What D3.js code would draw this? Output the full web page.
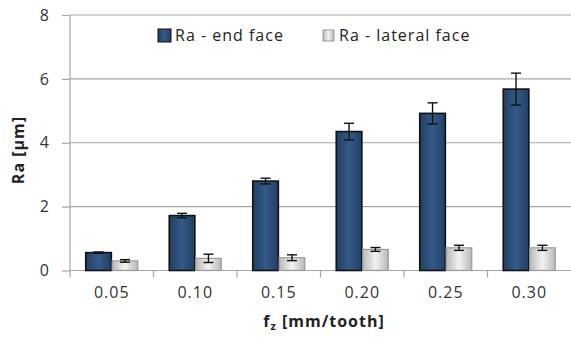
<!DOCTYPE html>
<html>
<head>
<meta charset="utf-8">
<script src="https://cdn.jsdelivr.net/npm/d3@7"></script>
<style>
  html, body { margin: 0; padding: 0; background: #fff; }
  svg { display: block; font-family: "Open Sans", "Noto Sans", sans-serif; }
</style>
</head>
<body>
<svg id="chart" width="571" height="340"></svg>
<script>
// Feed per tooth categories
const categories = ["0.05", "0.10", "0.15", "0.20", "0.25", "0.30"];
// Mean roughness Ra [µm] and error bar half-widths
const endFace = [0.56, 1.72, 2.80, 4.35, 4.92, 5.68];
const endFaceErr = [0.02, 0.07, 0.09, 0.26, 0.33, 0.50];
const lateralFace = [0.30, 0.38, 0.40, 0.66, 0.71, 0.71];
const lateralFaceErr = [0.04, 0.13, 0.09, 0.06, 0.08, 0.08];
const seriesNames = ["Ra - end face", "Ra - lateral face"];
const yTicks = [0, 2, 4, 6, 8];

const svg = d3.select("#chart");
const W = 571;
const xLeft = 70, y0 = 270.5, yTop = 15;
const labelFont = 16, labelSpacing = 1;

const x = d3.scaleBand().domain(categories).range([xLeft, W]).padding(0);
const xInner = d3.scaleBand().domain([0, 1]).range([x.bandwidth() / 2 - 26, x.bandwidth() / 2 + 26]).paddingInner(0.03);
const y = d3.scaleLinear().domain([0, 8]).range([y0, yTop]);

const defs = svg.append("defs");
const gBlue = defs.append("linearGradient").attr("id", "gBlue").attr("x1", 0).attr("x2", 1).attr("y1", 0).attr("y2", 0);
gBlue.append("stop").attr("offset", "0%").attr("stop-color", "#223f63");
gBlue.append("stop").attr("offset", "50%").attr("stop-color", "#345a88");
gBlue.append("stop").attr("offset", "100%").attr("stop-color", "#223f63");
const gGray = defs.append("linearGradient").attr("id", "gGray").attr("x1", 0).attr("x2", 1).attr("y1", 0).attr("y2", 0);
gGray.append("stop").attr("offset", "0%").attr("stop-color", "#b8b8b8");
gGray.append("stop").attr("offset", "50%").attr("stop-color", "#f2f2f2");
gGray.append("stop").attr("offset", "100%").attr("stop-color", "#b8b8b8");

// gridlines
svg.append("g").selectAll("line").data(yTicks.filter(d => d > 0)).join("line")
  .attr("x1", xLeft).attr("x2", W)
  .attr("y1", d => y(d)).attr("y2", d => y(d))
  .attr("stroke", "#a6a6a6").attr("stroke-width", 1.2);

// y axis
const yAxis = d3.axisLeft(y).tickValues(yTicks).tickSize(8).tickPadding(12).tickFormat(d3.format("d"));
const gy = svg.append("g").attr("transform", `translate(${xLeft},0)`).call(yAxis);
gy.select(".domain").attr("stroke", "#a6a6a6").attr("stroke-width", 1.2).attr("d", `M0,${y0}V${yTop}`);
gy.selectAll(".tick line").attr("stroke", "#a6a6a6").attr("stroke-width", 1.2);
gy.selectAll(".tick text").attr("font-size", labelFont).attr("fill", "#333")
  .attr("font-family", "Open Sans, sans-serif").attr("letter-spacing", labelSpacing);

// x axis baseline and ticks between categories
svg.append("line").attr("x1", xLeft).attr("x2", W).attr("y1", y0).attr("y2", y0)
  .attr("stroke", "#a6a6a6").attr("stroke-width", 1.2);
svg.append("g").selectAll("line").data(categories).join("line")
  .attr("x1", d => x(d)).attr("x2", d => x(d)).attr("y1", y0).attr("y2", y0 + 7)
  .attr("stroke", "#a6a6a6").attr("stroke-width", 1.2);
svg.append("g").selectAll("text").data(categories).join("text")
  .attr("x", d => x(d) + x.bandwidth() / 2).attr("y", 298)
  .attr("text-anchor", "middle").attr("font-size", labelFont).attr("letter-spacing", labelSpacing)
  .attr("fill", "#333")
  .text(d => d);

// bars
const series = [
  { vals: endFace, errs: endFaceErr, fill: "url(#gBlue)", stroke: "#111", sw: 1.6 },
  { vals: lateralFace, errs: lateralFaceErr, fill: "url(#gGray)", stroke: "#9a9a9a", sw: 1.2 }
];
series.forEach((s, si) => {
  const g = svg.append("g");
  g.selectAll("rect").data(categories).join("rect")
    .attr("x", (c) => x(c) + xInner(si))
    .attr("width", xInner.bandwidth())
    .attr("y", (c, i) => y(s.vals[i]))
    .attr("height", (c, i) => y0 - y(s.vals[i]))
    .attr("fill", s.fill).attr("stroke", s.stroke).attr("stroke-width", s.sw);
  // error bars
  const eb = svg.append("g").attr("stroke", "#111").attr("stroke-width", 1.4);
  categories.forEach((c, i) => {
    const cx = x(c) + xInner(si) + xInner.bandwidth() / 2;
    const hi = y(s.vals[i] + s.errs[i]), lo = y(s.vals[i] - s.errs[i]);
    eb.append("line").attr("x1", cx).attr("x2", cx).attr("y1", hi).attr("y2", lo);
    eb.append("line").attr("x1", cx - 5).attr("x2", cx + 5).attr("y1", hi).attr("y2", hi);
    eb.append("line").attr("x1", cx - 5).attr("x2", cx + 5).attr("y1", lo).attr("y2", lo);
  });
});

// legend
const legend = svg.append("g");
const legendItems = [
  { name: seriesNames[0], fill: "url(#gBlue)", stroke: "#111", x: 158, size: 13, y: 29 },
  { name: seriesNames[1], fill: "url(#gGray)", stroke: "#9a9a9a", x: 323, size: 11, y: 30 }
];
legendItems.forEach(it => {
  legend.append("rect").attr("x", it.x).attr("y", it.y).attr("width", it.size).attr("height", it.size)
    .attr("fill", it.fill).attr("stroke", it.stroke).attr("stroke-width", 1);
  legend.append("text").attr("x", 16 + (it.x === 158 ? 175 - 16 : 339 - 16)).attr("y", 41)
    .attr("font-size", labelFont).attr("letter-spacing", labelSpacing).attr("fill", "#222")
    .text(it.name);
});

// axis titles
svg.append("text").attr("transform", "translate(24,150) rotate(-90)")
  .attr("text-anchor", "middle").attr("font-size", labelFont).attr("letter-spacing", labelSpacing)
  .attr("font-weight", "bold").attr("fill", "#222")
  .text("Ra [µm]");
const xt = svg.append("text").attr("x", 324).attr("y", 327).attr("text-anchor", "middle")
  .attr("font-size", labelFont).attr("letter-spacing", labelSpacing)
  .attr("font-weight", "bold").attr("fill", "#222");
xt.append("tspan").text("f");
xt.append("tspan").attr("font-size", 11).attr("dy", 3).text("z");
xt.append("tspan").attr("dy", -3).text(" [mm/tooth]");
</script>
</body>
</html>
